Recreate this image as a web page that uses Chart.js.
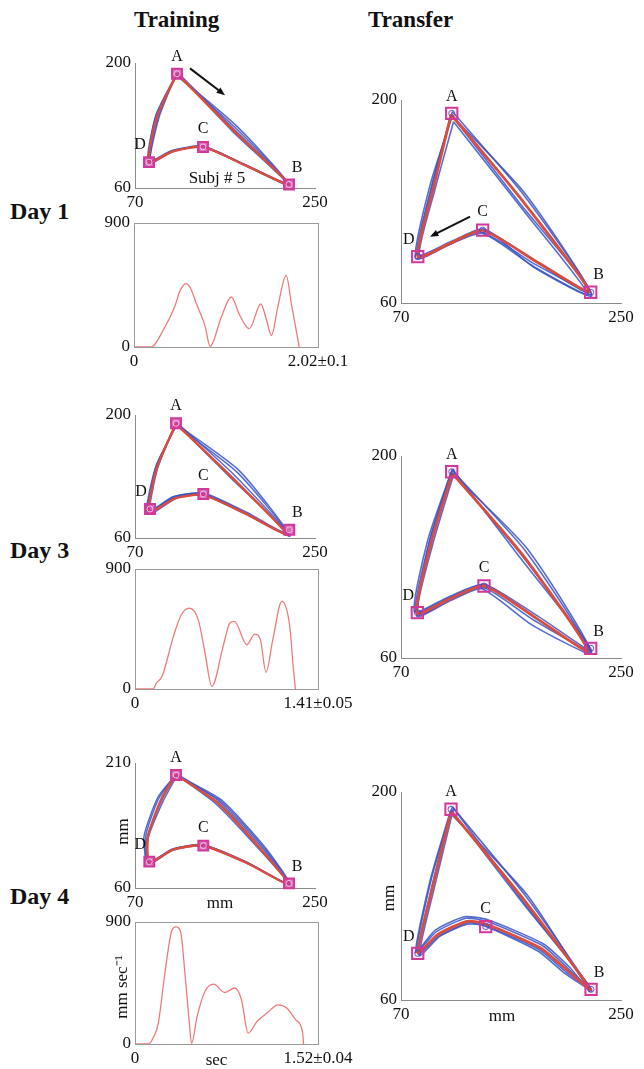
<!DOCTYPE html>
<html>
<head>
<meta charset="utf-8">
<script src="https://cdn.jsdelivr.net/npm/chart.js@4.4.1/dist/chart.umd.min.js"></script>
<style>
  body { margin: 0; background: #fff; width: 644px; height: 1069px; position: relative; overflow: hidden; font-family: 'Liberation Serif', 'Times New Roman', serif; }
  canvas { position: absolute; }
  .head { position: absolute; font-weight: bold; font-size: 23px; line-height: 24px; color: #111; white-space: nowrap; }
  .day { position: absolute; left: 10px; font-weight: bold; font-size: 24px; line-height: 24px; color: #111; white-space: nowrap; }
</style>
</head>
<body>
<div class="head" style="left:134px;top:8px;">Training</div>
<div class="head" style="left:368px;top:8px;">Transfer</div>
<div class="day" style="top:199px;">Day 1</div>
<div class="day" style="top:538px;">Day 3</div>
<div class="day" style="top:884px;">Day 4</div>

<canvas id="trainDay1"></canvas>
<canvas id="velDay1"></canvas>
<canvas id="trainDay3"></canvas>
<canvas id="velDay3"></canvas>
<canvas id="trainDay4"></canvas>
<canvas id="velDay4"></canvas>
<canvas id="transferDay1"></canvas>
<canvas id="transferDay3"></canvas>
<canvas id="transferDay4"></canvas>

<script>
// targets A, B, C, D and hand paths, all in mm
const targetNames = ['A', 'B', 'C', 'D'];
const triXTicks = [70, 250];
const triYTicks = [60, 200];
const triYTicksDay4 = [60, 210];
const velYTicks = [0, 900];

const trainDay1Targets = [[112, 188], [224, 64], [138, 106], [84, 89]];
const trainDay1Mean = [[112, 188], [168, 125], [224, 64], [181, 85], [138, 106], [108, 101], [84, 89], [92, 140], [112, 188]];
const trainDay1Trials = [
  [[113, 189], [169, 126], [225, 63], [182, 85], [138, 107], [107, 102], [83, 90], [91, 141], [113, 189]],
  [[111, 187], [170, 128], [223, 65], [180, 86], [137, 107], [106, 100], [85, 88], [93, 139], [111, 187]],
  [[112, 189], [167, 124], [224, 63], [182, 84], [139, 106], [109, 102], [84, 90], [91, 142], [112, 189]],
  [[111, 187], [172, 129], [223, 65], [180, 86], [137, 106], [106, 101], [85, 88], [94, 139], [111, 187]],
];
const trainDay1Arrow = [[125, 194], [160, 164]];

const trainDay3Targets = [[111, 190.6], [224.3, 69.4], [138.3, 110], [85, 93]];
const trainDay3Mean = [[111, 190], [167, 129], [222, 64], [180, 88], [138, 109], [110, 105], [84, 89], [92, 140], [111, 190]];
const trainDay3Trials = [
  [[112, 191], [169, 132], [224, 63], [181, 88], [139, 110], [109, 106], [83, 88], [91, 141], [112, 191]],
  [[110, 189], [172, 135], [224, 63], [179, 89], [137, 111], [108, 107], [83, 90], [92, 139], [110, 189]],
  [[111, 191], [166, 128], [223, 65], [181, 87], [138, 109], [111, 105], [85, 88], [93, 141], [111, 191]],
  [[112, 189], [174, 137], [225, 62], [182, 89], [139, 111], [109, 107], [82, 89], [91, 142], [112, 189]],
];

const trainDay4Targets = [[111, 195.6], [224, 65.6], [138.3, 110.8], [84.3, 91.6]];
const trainDay4Mean = [[111, 196], [153, 162], [197, 105], [224, 64], [182, 90], [138, 111], [108, 106], [84, 90], [83, 122], [96, 166], [111, 196]];
const trainDay4Trials = [
  [[112, 197], [154, 164], [198, 107], [225, 63], [183, 90], [138, 112], [108, 107], [82, 90], [81, 124], [94, 168], [112, 197]],
  [[110, 195], [155, 165], [199, 108], [224, 65], [181, 91], [137, 111], [107, 105], [84, 89], [82, 120], [97, 166], [110, 195]],
  [[111, 196], [151, 161], [196, 104], [223, 65], [183, 89], [139, 110], [109, 107], [83, 91], [79, 122], [93, 169], [111, 196]],
  [[112, 195], [156, 166], [200, 109], [225, 64], [182, 91], [138, 112], [107, 106], [85, 89], [83, 119], [98, 164], [112, 195]],
];

const transferDay1Targets = [[111.5, 190.8], [225.2, 67.4], [136.8, 110.3], [83.7, 92]];
const transferDay1Mean = [[111, 190], [168, 132], [224, 68], [180, 89], [137, 110], [110, 101], [84, 92], [97, 141], [111, 190]];
const transferDay1Trials = [
  [[112, 192], [170, 135], [226, 66], [181, 88], [137, 111], [110, 102], [83, 93], [96, 143], [112, 192]],
  [[111, 190], [166, 130], [225, 68], [179, 87], [136, 109], [109, 100], [84, 91], [95, 140], [111, 190]],
  [[112, 189], [171, 136], [226, 65], [178, 85], [138, 111], [111, 101], [82, 91], [94, 142], [112, 189]],
  [[113, 185], [170, 124], [223, 66], [177, 86], [137, 108], [108, 100], [85, 93], [98, 139], [113, 185]],
];
const transferDay1Arrow = [[126.5, 119.5], [93.7, 105.7]];

const transferDay3Targets = [[111.5, 189.1], [225.2, 66.7], [137.9, 109.9], [83.4, 91.4]];
const transferDay3Mean = [[112, 188], [170, 131], [223, 65], [180, 88], [138, 110], [110, 101], [83, 91], [95, 141], [112, 188]];
const transferDay3Trials = [
  [[112, 190], [172, 134], [225, 64], [181, 87], [139, 111], [110, 102], [82, 92], [94, 143], [112, 190]],
  [[111, 189], [168, 132], [224, 66], [179, 86], [137, 109], [109, 100], [84, 90], [93, 140], [111, 189]],
  [[113, 187], [173, 136], [226, 63], [177, 83], [136, 108], [111, 100], [83, 89], [96, 139], [113, 187]],
  [[112, 191], [167, 130], [226, 65], [182, 89], [138, 111], [108, 102], [81, 92], [92, 142], [112, 191]],
];

const transferDay4Targets = [[110.9, 188.4], [225.5, 67.2], [139.3, 109.4], [83.7, 91.4]];
const transferDay4Mean = [[111, 187], [170, 128], [225, 67], [206, 80], [184, 95], [140, 111], [124, 113], [100, 104], [84, 92], [97, 140], [111, 187]];
const transferDay4Trials = [
  [[112, 190], [172, 130], [226, 66], [207, 81], [185, 97], [140, 113], [123, 115], [99, 106], [83, 93], [95, 142], [112, 190]],
  [[111, 188], [168, 127], [225, 68], [205, 79], [183, 94], [139, 110], [125, 112], [101, 103], [84, 91], [96, 139], [111, 188]],
  [[110, 186], [173, 131], [224, 66], [208, 82], [186, 98], [141, 114], [122, 116], [98, 107], [82, 92], [94, 141], [110, 186]],
  [[113, 189], [170, 126], [226, 67], [204, 78], [182, 93], [138, 110], [124, 111], [102, 103], [85, 90], [98, 138], [113, 189]],
];

// hand speed profiles (sec, mm/sec)
const velDay1Time = [0, 0.21, 0.36, 0.50, 0.56, 0.64, 0.70, 0.76, 0.87, 0.93, 1.07, 1.19, 1.29, 1.41, 1.55, 1.62, 1.68, 1.76, 1.86, 1.93, 2.02];
const velDay1Speed = [0, 0, 125, 295, 404, 460, 416, 319, 150, 5, 222, 363, 234, 133, 312, 198, 84, 295, 520, 295, 0];
const velDay1End = '2.02±0.1';

const velDay3Time = [0, 0.16, 0.19, 0.24, 0.34, 0.41, 0.48, 0.56, 0.62, 0.68, 0.78, 0.84, 0.88, 0.99, 1.06, 1.11, 1.16, 1.22, 1.30, 1.37, 1.40, 1.42];
const velDay3Speed = [0, 0, 45, 95, 395, 557, 607, 520, 270, 20, 320, 495, 507, 332, 412, 370, 125, 370, 657, 470, 170, 0];
const velDay3End = '1.41±0.05';

const velDay4Time = [0, 0.12, 0.17, 0.21, 0.27, 0.33, 0.37, 0.41, 0.45, 0.49, 0.51, 0.56, 0.63, 0.71, 0.81, 0.90, 0.96, 1.02, 1.10, 1.19, 1.29, 1.37, 1.45, 1.51, 1.52];
const velDay4Speed = [0, 0, 55, 153, 524, 832, 864, 832, 524, 153, 5, 202, 387, 441, 380, 413, 326, 80, 166, 228, 289, 264, 178, 91, 0];
const velDay4End = '1.52±0.04';

const PAD = { left: 50, top: 22, right: 40, bottom: 34 };
const SERIF = "'Liberation Serif', 'Times New Roman', serif";
const BLUE = 'rgba(56, 84, 196, 0.85)';
const RED = '#dc4c3c';
const MAGENTA = '#d2389c';
const SPEED = '#f07a7a';
const AXIS = '#8c8c8c';

// name offsets from each target, px
const nameOffsets = [[0, -17], [8, -17], [0, -18], [-9, -17]];

function placeCanvas(id, area) {
  const canvas = document.getElementById(id);
  canvas.width = area.right - area.left + PAD.left + PAD.right;
  canvas.height = area.bottom - area.top + PAD.top + PAD.bottom;
  canvas.style.left = (area.left - PAD.left) + 'px';
  canvas.style.top = (area.top - PAD.top) + 'px';
  return canvas;
}

function toPoints(pairs) {
  return pairs.map(([x, y]) => ({ x, y }));
}

function edgeAxis(ticks, isX, labelFn, showBorder) {
  return {
    type: 'linear',
    min: ticks[0],
    max: ticks[ticks.length - 1],
    grid: { display: false, drawTicks: false },
    border: { display: showBorder, color: AXIS, width: 1 },
    afterBuildTicks: (scale) => { scale.ticks = ticks.map((value) => ({ value })); },
    afterFit: (scale) => {
      if (isX) scale.height = PAD.bottom;
      else scale.width = PAD.left;
    },
    ticks: {
      color: '#111',
      font: { family: SERIF, size: 17 },
      padding: 4,
      maxRotation: 0,
      autoSkip: false,
      callback: labelFn || ((value) => String(value)),
    },
  };
}

function decorPlugin(decor) {
  return {
    id: 'decor',
    afterDatasetsDraw(chart) {
      const { ctx, chartArea, scales: { x, y } } = chart;
      ctx.save();
      ctx.fillStyle = '#111';
      ctx.textAlign = 'center';
      ctx.textBaseline = 'middle';

      if (decor.box) {
        ctx.strokeStyle = '#9a9a9a';
        ctx.lineWidth = 1;
        ctx.strokeRect(chartArea.left + 0.5, chartArea.top + 0.5, chartArea.right - chartArea.left, chartArea.bottom - chartArea.top);
      }

      if (decor.targets) {
        ctx.font = `16px ${SERIF}`;
        decor.targets.forEach(([tx, ty], i) => {
          const [dx, dy] = nameOffsets[i];
          ctx.fillText(targetNames[i], x.getPixelForValue(tx) + dx, y.getPixelForValue(ty) + dy);
        });
      }

      if (decor.note) {
        ctx.font = `17px ${SERIF}`;
        ctx.fillText(decor.note.text, x.getPixelForValue(decor.note.at[0]), y.getPixelForValue(decor.note.at[1]));
      }

      if (decor.arrow) {
        const [[x0, y0], [x1, y1]] = decor.arrow;
        const px0 = x.getPixelForValue(x0), py0 = y.getPixelForValue(y0);
        const px1 = x.getPixelForValue(x1), py1 = y.getPixelForValue(y1);
        const ang = Math.atan2(py1 - py0, px1 - px0);
        const head = 9;
        ctx.strokeStyle = '#111';
        ctx.lineWidth = 2;
        ctx.beginPath();
        ctx.moveTo(px0, py0);
        ctx.lineTo(px1 - Math.cos(ang) * head * 0.7, py1 - Math.sin(ang) * head * 0.7);
        ctx.stroke();
        ctx.beginPath();
        ctx.moveTo(px1, py1);
        ctx.lineTo(px1 - head * Math.cos(ang - 0.38), py1 - head * Math.sin(ang - 0.38));
        ctx.lineTo(px1 - head * Math.cos(ang + 0.38), py1 - head * Math.sin(ang + 0.38));
        ctx.closePath();
        ctx.fill();
      }

      ctx.font = `17px ${SERIF}`;
      if (decor.xTitle) {
        ctx.fillText(decor.xTitle.text, (chartArea.left + chartArea.right) / 2 + decor.xTitle.dx, chartArea.bottom + decor.xTitle.dy);
      }
      if (decor.yTitle) {
        ctx.translate(chartArea.left + decor.yTitle.dx, (chartArea.top + chartArea.bottom) / 2 + decor.yTitle.dy);
        ctx.rotate(-Math.PI / 2);
        ctx.fillText(decor.yTitle.text, 0, 0);
      }
      ctx.restore();
    },
  };
}

function drawTriangle(id, area, targets, mean, trials, yTicks, extra, big) {
  const canvas = placeCanvas(id, area);
  // Chart.js paints lower `order` on top: targets, then mean, then trials below
  const datasets = [];
  datasets.push({
    data: toPoints(targets),
    order: 0,
    showLine: false,
    pointStyle: 'circle',
    pointRadius: 3,
    borderColor: big ? 'rgba(70, 70, 200, 0.85)' : 'rgba(235, 200, 235, 0.9)',
    borderWidth: 1,
    backgroundColor: 'rgba(255, 255, 255, 0)',
    clip: 12,
  });
  datasets.push({
    data: toPoints(targets),
    order: 1,
    showLine: false,
    pointStyle: 'rect',
    pointRadius: big ? 8 : 7,
    borderColor: MAGENTA,
    borderWidth: 2,
    backgroundColor: big ? 'rgba(210, 56, 156, 0.08)' : 'rgba(210, 56, 156, 0.75)',
    clip: 12,
  });
  datasets.push({
    data: toPoints(mean),
    order: 2,
    showLine: true,
    borderColor: RED,
    borderWidth: big ? 2.8 : 2.4,
    tension: 0.2,
    pointRadius: 0,
    clip: 12,
  });
  trials.forEach((trial) => {
    datasets.push({
      data: toPoints(trial),
      order: 3,
      showLine: true,
      borderColor: BLUE,
      borderWidth: big ? 1.6 : 1.5,
      tension: 0.2,
      pointRadius: 0,
      clip: 12,
    });
  });

  return new Chart(canvas, {
    type: 'scatter',
    data: { datasets },
    options: {
      responsive: false,
      animation: false,
      layout: { padding: { left: 0, top: PAD.top, right: PAD.right, bottom: 0 } },
      plugins: { legend: { display: false }, tooltip: { enabled: false } },
      scales: {
        x: edgeAxis(triXTicks, true, null, true),
        y: edgeAxis(yTicks, false, null, true),
      },
    },
    plugins: [decorPlugin(Object.assign({ targets }, extra))],
  });
}

function drawSpeed(id, area, times, speeds, xMax, endLabel, extra) {
  const canvas = placeCanvas(id, area);
  const data = times.map((t, i) => ({ x: t, y: speeds[i] }));
  return new Chart(canvas, {
    type: 'scatter',
    data: {
      datasets: [{
        data,
        showLine: true,
        borderColor: SPEED,
        borderWidth: 1.3,
        cubicInterpolationMode: 'monotone',
        pointRadius: 0,
      }],
    },
    options: {
      responsive: false,
      animation: false,
      layout: { padding: { left: 0, top: PAD.top, right: PAD.right, bottom: 0 } },
      plugins: { legend: { display: false }, tooltip: { enabled: false } },
      scales: {
        x: edgeAxis([0, xMax], true, (value, index) => (index === 0 ? '0' : endLabel), false),
        y: edgeAxis(velYTicks, false, null, false),
      },
    },
    plugins: [decorPlugin(Object.assign({ box: true }, extra))],
  });
}

drawTriangle('trainDay1', { left: 135, right: 315, top: 63, bottom: 188 }, trainDay1Targets, trainDay1Mean, trainDay1Trials, triYTicks,
  { arrow: trainDay1Arrow, note: { text: 'Subj # 5', at: [152, 71] } }, false);
drawSpeed('velDay1', { left: 134, right: 318, top: 223, bottom: 347 }, velDay1Time, velDay1Speed, 2.25, velDay1End, {});

drawTriangle('trainDay3', { left: 135, right: 315, top: 415, bottom: 538 }, trainDay3Targets, trainDay3Mean, trainDay3Trials, triYTicks, {}, false);
drawSpeed('velDay3', { left: 135, right: 318, top: 569, bottom: 689 }, velDay3Time, velDay3Speed, 1.62, velDay3End, {});

drawTriangle('trainDay4', { left: 135, right: 315, top: 763, bottom: 888 }, trainDay4Targets, trainDay4Mean, trainDay4Trials, triYTicksDay4,
  { xTitle: { text: 'mm', dx: -5, dy: 16 }, yTitle: { text: 'mm', dx: -11, dy: 6 } }, false);
drawSpeed('velDay4', { left: 135, right: 318, top: 922, bottom: 1044 }, velDay4Time, velDay4Speed, 1.65, velDay4End,
  { xTitle: { text: 'sec', dx: -10, dy: 17 }, yTitle: { text: 'mm sec\u207B\u00B9', dx: -12, dy: 4 } });

drawTriangle('transferDay1', { left: 401, right: 621, top: 100, bottom: 303 }, transferDay1Targets, transferDay1Mean, transferDay1Trials, triYTicks,
  { arrow: transferDay1Arrow }, true);
drawTriangle('transferDay3', { left: 401, right: 621, top: 456, bottom: 658 }, transferDay3Targets, transferDay3Mean, transferDay3Trials, triYTicks, {}, true);
drawTriangle('transferDay4', { left: 401, right: 621, top: 792, bottom: 1000 }, transferDay4Targets, transferDay4Mean, transferDay4Trials, triYTicks,
  { xTitle: { text: 'mm', dx: -9, dy: 17 }, yTitle: { text: 'mm', dx: -11, dy: 2 } }, true);
</script>
</body>
</html>
